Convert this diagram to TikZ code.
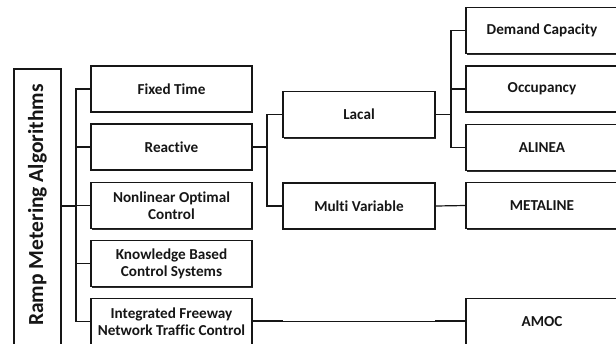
\documentclass[tikz,border=0pt]{standalone}
\usepackage{fontspec}
\setmainfont{Carlito}[Ligatures={NoCommon}]
\usetikzlibrary{shadows}
\definecolor{ink}{HTML}{161616}
\tikzset{
  x=1bp, y=-1bp,
  box/.style={draw=ink, line width=1.2bp, fill=white, align=center,
    minimum width=161bp, minimum height=46bp, inner sep=2bp,
    font=\fontsize{15.2bp}{17bp}\selectfont\bfseries, text=ink,
    drop shadow={shadow xshift=1bp, shadow yshift=-1.2bp, fill=ink, opacity=0.9}},
  sbox/.style={box, minimum width=152bp},
  link/.style={draw=ink, line width=1.2bp},
  thick seg/.style={draw=ink, line width=2.4bp},
}
\begin{document}
\begin{tikzpicture}
\clip (0,0) rectangle (616,343);
\fill[white] (0,0) rectangle (616,343);
% title
\node[box, rotate=90, minimum width=282bp, minimum height=47bp,
  font=\fontsize{21.5bp}{24bp}\selectfont\bfseries] (title) at (37.5,210)
  {\hspace*{10bp}Ramp Metering Algorithms};
% first column
\node[box] (fixed) at (171.5,89) {Fixed Time};
\node[box] (reactive) at (171.5,147) {Reactive};
\node[box] (nonlin) at (171.5,205.5) {Nonlinear Optimal\\Control};
\node[box] (knowledge) at (171.5,263.5) {Knowledge Based\\Control Systems};
\node[box] (integrated) at (171.5,321.5) {Integrated Freeway\\Network Traffic Control};
% second column
\node[sbox] (lacal) at (359,114.5) {Lacal};
\node[sbox] (multi) at (359,206) {Multi Variable};
% third column
\node[sbox] (demand) at (542,30.5) {Demand Capacity};
\node[sbox] (occ) at (542,89) {Occupancy};
\node[sbox] (alinea) at (542,147.5) {ALINEA};
\node[sbox] (metaline) at (542,205.5) {METALINE};
\node[sbox] (amoc) at (542,321.5) {AMOC};
% junctions
\coordinate (trunk) at (76,206);
\coordinate (rj) at (267,147);
\coordinate (lj) at (451,114.5);
% connectors
\draw[link] (title.south |- trunk) -- (trunk);
\draw[link] (trunk) |- (fixed.west);
\draw[link] (trunk) |- (reactive.west);
\draw[link] (trunk) |- (nonlin.west);
\draw[link] (trunk) |- (knowledge.west);
\draw[link] (trunk) |- (integrated.west);
\draw[link] (reactive.east) -- (rj);
\draw[link] (rj) |- (lacal.west);
\draw[link] (rj) |- (multi.west);
\draw[link] (lacal.east) -- (lj);
\draw[link] (lj) |- (demand.west);
\draw[link] (lj) |- (occ.west);
\draw[link] (lj) |- (alinea.west);
\draw[link] (multi.east) -- (metaline.west);
\draw[link] (integrated.east) -- (amoc.west);
\draw[thick seg] ([yshift=0.6bp]integrated.east) -- ++(30,0);
\draw[thick seg] ([yshift=0.6bp]amoc.west) -- ++(-30,0);
\end{tikzpicture}
\end{document}
